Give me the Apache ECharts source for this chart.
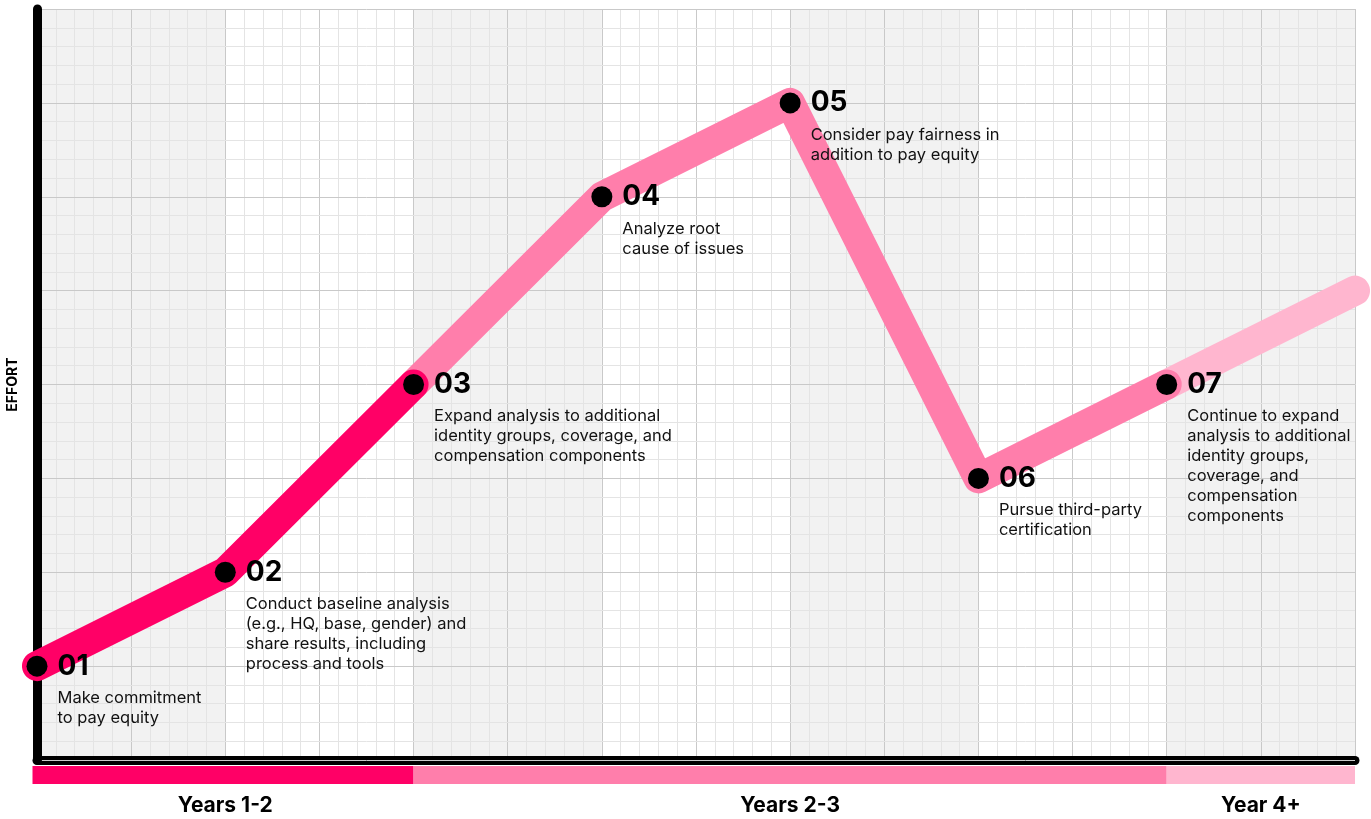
<!DOCTYPE html>
<html>
<head>
<meta charset="utf-8">
<script src="https://cdn.jsdelivr.net/npm/echarts@6/dist/echarts.min.js"></script>
<style>
  html, body { margin: 0; padding: 0; background: #fff; }
  #main { width: 1371px; height: 819px; }
</style>
</head>
<body>
<div id="main"></div>
<script>
  // steps of the roadmap
  var stepNums = ['01', '02', '03', '04', '05', '06', '07'];
  var stepX = [0, 1, 2, 3, 4, 5, 6];
  var stepEffort = [1, 2, 4, 6, 7, 3, 4];
  var stepText = [
    'Make commitment\nto pay equity',
    'Conduct baseline analysis\n(e.g., HQ, base, gender) and\nshare results, including\nprocess and tools',
    'Expand analysis to additional\nidentity groups, coverage, and\ncompensation components',
    'Analyze root\ncause of issues',
    'Consider pay fairness in\naddition to pay equity',
    'Pursue third-party\ncertification',
    'Continue to expand\nanalysis to additional\nidentity groups,\ncoverage, and\ncompensation\ncomponents'
  ];
  // where the line goes after step 07
  var trendEndX = 7;
  var trendEndEffort = 5;

  // phases along the bottom
  var phaseNames = ['Years 1-2', 'Years 2-3', 'Year 4+'];
  var phaseFrom = [0, 2, 6];
  var phaseTo = [2, 6, 7];

  var colors = ['#ff0066', '#ff7eab', '#ffb6cf'];

  var myChart = echarts.init(document.getElementById('main'));

  /* build line pieces */
  function pts(a, b) {
    var out = [];
    for (var i = a; i <= b; i++) out.push([stepX[i], stepEffort[i]]);
    return out;
  }
  var seg1 = pts(0, 2);
  var seg2 = pts(2, 6);
  var seg3 = [[stepX[6], stepEffort[6]], [trendEndX, trendEndEffort]];

  var stepData = stepX.map(function (x, i) {
    return { value: [x, stepEffort[i]], num: stepNums[i], txt: stepText[i] };
  });

  var phaseData = phaseNames.map(function (n, i) {
    return [phaseFrom[i], phaseTo[i], i, n];
  });

  function lineSeries(data, color, z) {
    return {
      type: 'line',
      data: data,
      z: z,
      symbol: 'none',
      silent: true,
      lineStyle: { color: color, width: 30, cap: 'round', join: 'round', opacity: 1 },
      emphasis: { disabled: true }
    };
  }

  var option = {
    animation: false,
    grid: { left: 37, right: 16, top: 9, bottom: 59, outerBoundsMode: 'none', containLabel: false },
    xAxis: {
      type: 'value',
      z: 0,
      min: 0,
      max: 7,
      interval: 0.5,
      axisLabel: { show: false },
      axisTick: { show: false },
      axisLine: { lineStyle: { color: '#000', width: 9 } },
      splitLine: { lineStyle: { color: '#c9c9c9', width: 1 } },
      minorTick: { show: false, splitNumber: 5 },
      minorSplitLine: { show: true, lineStyle: { color: '#e4e4e4', width: 1 } },
      splitArea: { show: true, areaStyle: { color: ['#f2f2f2', '#f2f2f2', '#ffffff', '#ffffff'] } }
    },
    yAxis: {
      type: 'value',
      z: 1,
      min: 0,
      max: 8,
      interval: 1,
      name: 'EFFORT',
      nameLocation: 'middle',
      nameRotate: 90,
      nameGap: 17,
      nameTextStyle: { fontFamily: 'Inter', fontWeight: 'bold', fontSize: 14, color: '#000' },
      axisLabel: { show: false },
      axisTick: { show: false },
      axisLine: { lineStyle: { color: '#000', width: 9 } },
      splitLine: { lineStyle: { color: '#c9c9c9', width: 1 } },
      minorTick: { show: false, splitNumber: 5 },
      minorSplitLine: { show: true, lineStyle: { color: '#e4e4e4', width: 1 } }
    },
    series: [
      lineSeries(seg3, colors[2], 3),
      lineSeries(seg2, colors[1], 4),
      lineSeries(seg1, colors[0], 5),
      {
        type: 'scatter',
        data: stepData,
        z: 10,
        symbolSize: 21,
        itemStyle: { color: '#000', opacity: 1 },
        emphasis: { disabled: true },
        label: {
          show: true,
          position: [31, -11.5],
          align: 'left',
          verticalAlign: 'top',
          formatter: function (p) {
            var lines = p.data.txt.split('\n').map(function (l) { return '{d|' + l + '}'; });
            return '{n|' + p.data.num + '}\n' + lines.join('\n');
          },
          rich: {
            n: { fontFamily: 'Inter', fontWeight: 'bold', fontSize: 28, lineHeight: 44, color: '#000' },
            d: { fontFamily: 'Inter', fontSize: 16.5, lineHeight: 20, color: '#111' }
          }
        }
      },
      {
        // phase band under the axis
        type: 'custom',
        data: phaseData,
        silent: true,
        renderItem: function (params, api) {
          var a = api.coord([api.value(0), 0]);
          var b = api.coord([api.value(1), 0]);
          var idx = api.value(2);
          var left = api.value(0) === 0 ? a[0] - 4.5 : a[0];
          return {
            type: 'group',
            children: [
              {
                type: 'rect',
                shape: { x: left, y: a[1] + 6, width: b[0] - left, height: 18 },
                style: { fill: colors[idx] }
              },
              {
                type: 'text',
                x: (a[0] + b[0]) / 2,
                y: a[1] + 46,
                style: {
                  text: phaseNames[idx],
                  fontFamily: 'Inter',
                  fontWeight: 'bold',
                  fontSize: 21,
                  fill: '#000',
                  align: 'center',
                  verticalAlign: 'middle'
                }
              }
            ]
          };
        }
      }
    ]
  };
  myChart.setOption(option);
</script>
</body>
</html>
